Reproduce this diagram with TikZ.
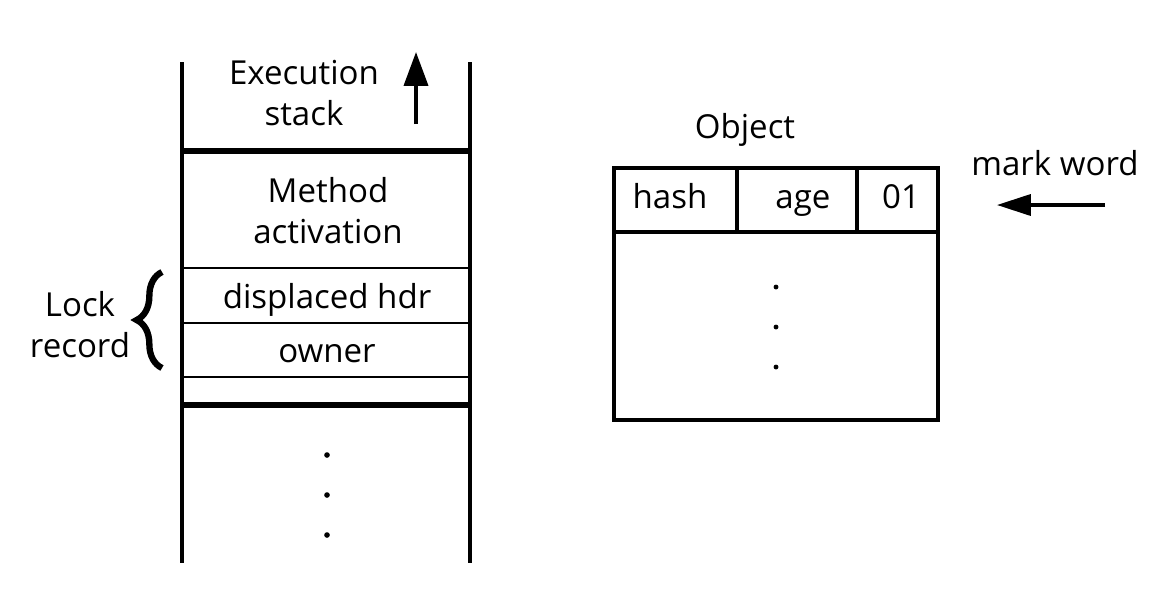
\documentclass[tikz,border=0pt]{standalone}
\usepackage{fontspec}
\setmainfont{Open Sans}
\usetikzlibrary{arrows.meta, decorations.pathreplacing}

\begin{document}
\begin{tikzpicture}[
    x=0.025cm, y=-0.025cm,                      % coordinates in pixels of the sketch
    >={Triangle[length=24pt, width=17pt]},
    font=\fontsize{23.5}{28.5}\selectfont,
    wall/.style={line width=2.6pt},
    sep/.style={line width=1.8pt},
    boldsep/.style={line width=4.2pt},
    txt/.style={inner sep=0pt, anchor=base, align=center},
    dotmark/.style={circle, fill, inner sep=0pt, minimum size=4pt}
]
    \useasboundingbox (0,0) rectangle (1152,588);

    % --- 1. execution stack ---
    \draw [wall] (182,62) -- (182,563);
    \draw [wall] (470,62) -- (470,563);

    \draw [boldsep] (182,151) -- (470,151);
    \draw [sep]     (182,268) -- (470,268);
    \draw [sep]     (182,323) -- (470,323);
    \draw [sep]     (182,377) -- (470,377);
    \draw [boldsep] (182,405) -- (470,405);

    % two-line labels sit on the baseline of their last line
    \node [txt] (exec)   at (304,125) {Execution\\stack};
    \node [txt] (method) at (328,243) {Method\\activation};
    \node [txt] (dhdr)   at (327,308) {displaced hdr};
    \node [txt] (owner)  at (327,362) {owner};

    % growth direction
    \coordinate (grow tail) at (416,124);
    \coordinate (grow head) at (416,52);
    \draw [->, wall] (grow tail) -- (grow head);

    \foreach \y [count=\i] in {455,495,535}
        \node [dotmark] (sdot\i) at (327,\y) {};

    % lock record brace
    \draw [decorate, decoration={brace, amplitude=18pt}, line width=4.5pt]
        (162,368) -- (162,272);
    \node [txt] (lock) at (80,357) {Lock\\record};

    % --- 2. object ---
    \node [txt] (object) at (745,138) {Object};
    \draw [sep, line width=2.2pt] (614,168) rectangle (938,420);
    \draw [sep, line width=2.2pt] (614,232) -- (938,232);
    \draw [sep, line width=2.2pt] (737,168) -- (737,232);
    \draw [sep, line width=2.2pt] (857,168) -- (857,232);

    \node [txt] (hash) at (670,208) {hash};
    \node [txt] (age)  at (803,208) {age};
    \node [txt] (flag) at (901,208) {01};

    \foreach \y [count=\i] in {287,327,367}
        \node [dotmark, minimum size=3.5pt] (odot\i) at (776,\y) {};

    % mark word pointer
    \node [txt] (mark) at (1055,175) {mark word};
    \coordinate (mark tail) at (1105,205);
    \coordinate (mark head) at (997,205);
    \draw [-{Triangle[length=24pt, width=15pt]}, line width=2.2pt] (mark tail) -- (mark head);

\end{tikzpicture}
\end{document}
